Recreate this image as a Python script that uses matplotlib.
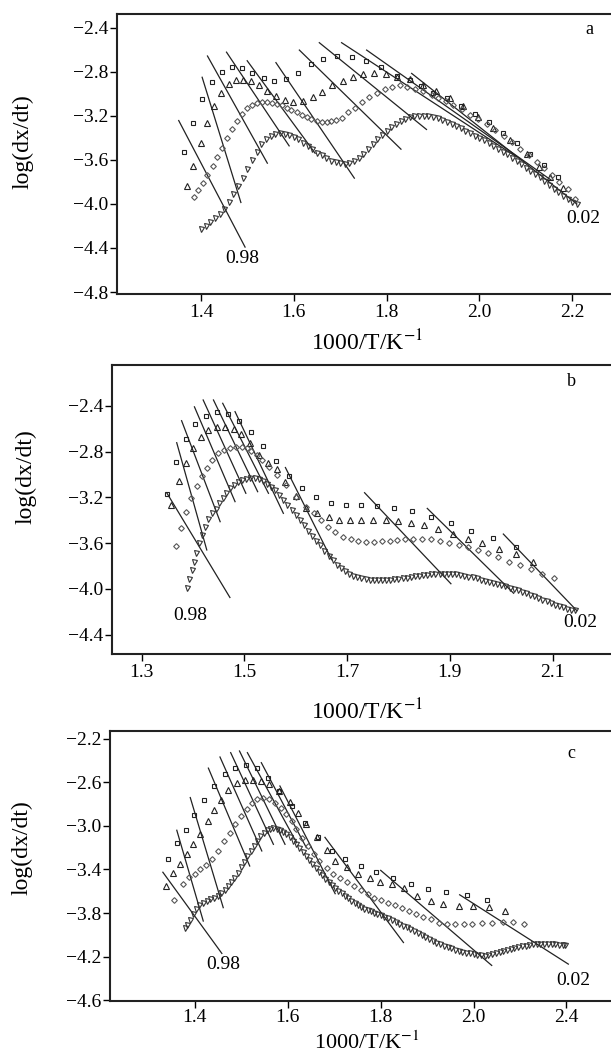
import numpy as np
import matplotlib
matplotlib.use("Agg")
import matplotlib.pyplot as plt

plt.rcParams['font.family'] = ['Liberation Serif', 'DejaVu Serif']
plt.rcParams['mathtext.fontset'] = 'stix'

W, H = 611, 1055

# ---------------- panel a ----------------
a_sq = [(1.364,-3.527),(1.383,-3.269),(1.402,-3.048),(1.423,-2.891),(1.445,-2.80),(1.466,-2.755),
        (1.488,-2.769),(1.511,-2.809),(1.535,-2.855),(1.558,-2.885),(1.583,-2.869),(1.61,-2.809),
        (1.637,-2.733),(1.664,-2.685),(1.694,-2.655),(1.725,-2.664),(1.756,-2.70),(1.789,-2.754),
        (1.823,-2.836),(1.85,-2.875),(1.875,-2.925),(1.90,-2.99),(1.93,-3.04),(1.96,-3.11),
        (1.99,-3.18),(2.02,-3.26),(2.05,-3.355),(2.08,-3.45),(2.11,-3.55),(2.14,-3.65),(2.17,-3.76)]
a_tri = [(1.37,-3.833),(1.383,-3.655),(1.399,-3.451),(1.412,-3.264),(1.427,-3.112),(1.444,-2.996),
         (1.46,-2.912),(1.475,-2.875),(1.491,-2.872),(1.508,-2.888),(1.526,-2.924),(1.542,-2.975),
         (1.562,-3.02),(1.581,-3.057),(1.599,-3.075),(1.619,-3.069),(1.641,-3.033),(1.661,-2.982),
         (1.683,-2.924),(1.705,-2.882),(1.727,-2.845),(1.75,-2.82),(1.773,-2.815),(1.798,-2.82),
         (1.823,-2.844),(1.851,-2.87),(1.879,-2.921),(1.906,-2.973),(1.937,-3.042),(1.965,-3.112),
         (1.998,-3.215),(2.03,-3.309),(2.066,-3.42),(2.102,-3.548),(2.129,-3.663),(2.152,-3.755),
         (2.18,-3.86)]
a_dia = [(1.385,-3.936),(1.394,-3.875),(1.404,-3.809),(1.414,-3.736),(1.425,-3.657),(1.435,-3.573),
         (1.445,-3.49),(1.455,-3.40),(1.466,-3.321),(1.477,-3.245),(1.488,-3.182),(1.499,-3.133),
         (1.51,-3.103),(1.52,-3.085),(1.531,-3.075),(1.542,-3.075),(1.552,-3.082),(1.563,-3.091),
         (1.574,-3.106),(1.585,-3.127),(1.595,-3.148),(1.606,-3.169),(1.617,-3.19),(1.628,-3.212),
         (1.638,-3.23),(1.649,-3.245),(1.66,-3.254),(1.671,-3.257),(1.681,-3.251),(1.692,-3.239),
         (1.703,-3.218),(1.717,-3.169),(1.732,-3.127),(1.746,-3.075),(1.763,-3.027),(1.78,-2.99),
         (1.797,-2.96),(1.811,-2.942),(1.829,-2.921),(1.845,-2.94),(1.861,-2.96),(1.879,-2.975),
         (1.897,-3.012),(1.911,-3.036),(1.928,-3.064),(1.944,-3.103),(1.962,-3.142),(1.98,-3.194),
         (1.998,-3.233),(2.016,-3.278),(2.034,-3.33),(2.052,-3.385),(2.07,-3.436),(2.088,-3.497),
         (2.106,-3.557),(2.124,-3.618),(2.139,-3.678),(2.156,-3.739),(2.172,-3.80),(2.19,-3.869),
         (2.206,-3.951)]
a_inv = [(1.40,-4.23),(1.41,-4.20),(1.42,-4.165),(1.43,-4.13),(1.44,-4.09),(1.45,-4.045),(1.46,-3.98),
         (1.47,-3.91),(1.48,-3.84),(1.49,-3.765),(1.50,-3.68),(1.51,-3.60),(1.52,-3.525),(1.53,-3.46),
         (1.54,-3.41),(1.55,-3.38),(1.56,-3.362),(1.57,-3.358),(1.58,-3.362),(1.59,-3.375),(1.60,-3.39),
         (1.61,-3.415),(1.62,-3.445),(1.63,-3.475),(1.64,-3.505),(1.65,-3.535),(1.66,-3.56),(1.67,-3.585),
         (1.68,-3.607),(1.69,-3.622),(1.70,-3.632),(1.71,-3.635),(1.72,-3.627),(1.73,-3.61),(1.74,-3.585),
         (1.75,-3.55),(1.76,-3.505),(1.77,-3.46),(1.78,-3.415),(1.79,-3.37),(1.80,-3.335),(1.81,-3.30),
         (1.82,-3.272),(1.83,-3.25),(1.84,-3.232),(1.85,-3.215),(1.86,-3.205),(1.87,-3.199),(1.88,-3.198),
         (1.89,-3.202),(1.90,-3.21),(1.91,-3.222),(1.92,-3.238),(1.93,-3.255),(1.94,-3.275),(1.95,-3.295),
         (1.96,-3.315),(1.97,-3.337),(1.98,-3.358),(1.99,-3.38),(2.00,-3.40),(2.01,-3.423),(2.02,-3.446),
         (2.03,-3.47),(2.04,-3.497),(2.05,-3.525),(2.06,-3.55),(2.07,-3.58),(2.08,-3.61),(2.09,-3.64),
         (2.10,-3.67),(2.11,-3.70),(2.12,-3.73),(2.13,-3.76),(2.14,-3.795),(2.15,-3.83),(2.16,-3.865),
         (2.17,-3.895),(2.18,-3.925),(2.19,-3.955),(2.20,-3.98),(2.21,-4.005)]
a_lines = [(1.352,-3.243,1.495,-4.392),(1.4025,-2.850,1.486,-3.987),(1.414,-2.657,1.543,-3.63),
           (1.455,-2.622,1.59,-3.473),(1.4996,-2.70,1.646,-3.54),(1.5615,-2.717,1.7305,-3.766),
           (1.612,-2.603,1.831,-3.503),(1.655,-2.536,1.886,-3.324),(1.703,-2.536,2.08,-3.573),
           (1.757,-2.603,2.155,-3.785),(1.854,-2.815,2.21,-4.0)]

# ---------------- panel b ----------------
b_sq = [(1.349,-3.171),(1.367,-2.895),(1.387,-2.694),(1.405,-2.563),(1.425,-2.487),(1.446,-2.458),
        (1.468,-2.473),(1.49,-2.534),(1.514,-2.63),(1.537,-2.749),(1.561,-2.883),(1.586,-3.01),
        (1.612,-3.119),(1.639,-3.20),(1.668,-3.247),(1.697,-3.267),(1.727,-3.267),(1.758,-3.273),
        (1.792,-3.291),(1.827,-3.323),(1.863,-3.37),(1.902,-3.428),(1.942,-3.497),(1.984,-3.558),
        (2.029,-3.631)]
b_tri = [(1.357,-3.267),(1.372,-3.058),(1.386,-2.898),(1.401,-2.768),(1.416,-2.676),(1.43,-2.61),
         (1.446,-2.587),(1.462,-2.587),(1.479,-2.605),(1.494,-2.648),(1.511,-2.73),(1.528,-2.83),
         (1.546,-2.90),(1.563,-2.95),(1.58,-3.064),(1.60,-3.189),(1.62,-3.29),(1.641,-3.34),
         (1.664,-3.369),(1.684,-3.398),(1.705,-3.398),(1.728,-3.398),(1.751,-3.398),(1.775,-3.398),
         (1.799,-3.407),(1.824,-3.422),(1.85,-3.445),(1.876,-3.48),(1.907,-3.52),(1.935,-3.562),
         (1.963,-3.602),(1.996,-3.652),(2.028,-3.698),(2.061,-3.768)]
b_dia = [(1.3675,-3.622),(1.377,-3.465),(1.387,-3.331),(1.396,-3.209),(1.408,-3.101),(1.418,-3.014),
         (1.427,-2.941),(1.438,-2.874),(1.449,-2.816),(1.461,-2.787),(1.472,-2.772),(1.4835,-2.764),
         (1.495,-2.764),(1.505,-2.772),(1.514,-2.796),(1.524,-2.83),(1.534,-2.874),(1.548,-2.932),
         (1.563,-3.005),(1.582,-3.092),(1.601,-3.194),(1.62,-3.282),(1.635,-3.34),(1.649,-3.398),
         (1.663,-3.456),(1.677,-3.50),(1.692,-3.544),(1.707,-3.567),(1.722,-3.582),(1.737,-3.587),
         (1.753,-3.587),(1.768,-3.582),(1.783,-3.579),(1.798,-3.573),(1.813,-3.567),(1.829,-3.562),
         (1.846,-3.562),(1.863,-3.567),(1.881,-3.578),(1.899,-3.595),(1.917,-3.617),(1.936,-3.633),
         (1.955,-3.664),(1.975,-3.69),(1.994,-3.72),(2.015,-3.762),(2.036,-3.79),(2.057,-3.83),
         (2.08,-3.867),(2.102,-3.908)]
b_inv = [(1.388,-3.995),(1.393,-3.916),(1.398,-3.835),(1.402,-3.762),(1.407,-3.684),(1.412,-3.602),
         (1.417,-3.529),(1.424,-3.457),(1.43,-3.39),(1.437,-3.34),(1.444,-3.30),(1.451,-3.25),
         (1.458,-3.205),(1.465,-3.16),(1.472,-3.12),(1.48,-3.09),(1.488,-3.065),(1.496,-3.047),
         (1.504,-3.037),(1.512,-3.033),(1.52,-3.035),(1.528,-3.043),(1.536,-3.058),(1.544,-3.08),
         (1.552,-3.107),(1.56,-3.14),(1.568,-3.18),(1.576,-3.222),(1.584,-3.265),(1.592,-3.31),
         (1.60,-3.355),(1.608,-3.40),(1.616,-3.445),(1.624,-3.49),(1.632,-3.535),(1.64,-3.58),
         (1.648,-3.62),(1.656,-3.665),(1.664,-3.71),(1.672,-3.75),(1.68,-3.787),(1.688,-3.82),
         (1.696,-3.847),(1.704,-3.868),(1.712,-3.885),(1.72,-3.898),(1.728,-3.908),(1.736,-3.915),
         (1.744,-3.92),(1.752,-3.923),(1.76,-3.924),(1.768,-3.924),(1.776,-3.923),(1.784,-3.92),
         (1.792,-3.917),(1.80,-3.913),(1.808,-3.908),(1.816,-3.903),(1.824,-3.897),(1.832,-3.891),
         (1.84,-3.886),(1.848,-3.881),(1.856,-3.877),(1.864,-3.874),(1.872,-3.871),(1.88,-3.869),
         (1.888,-3.868),(1.896,-3.869),(1.904,-3.871),(1.912,-3.874),(1.92,-3.879),(1.928,-3.885),
         (1.936,-3.892),(1.944,-3.90),(1.952,-3.909),(1.96,-3.919),(1.968,-3.929),(1.976,-3.939),
         (1.984,-3.949),(1.992,-3.959),(2.0,-3.969),(2.008,-3.979),(2.016,-3.99),(2.024,-4.001),
         (2.032,-4.012),(2.04,-4.024),(2.048,-4.036),(2.056,-4.049),(2.064,-4.063),(2.072,-4.078),
         (2.08,-4.093),(2.088,-4.108),(2.096,-4.123),(2.104,-4.137),(2.112,-4.15),(2.12,-4.162),
         (2.128,-4.172),(2.136,-4.18),(2.144,-4.187)]
b_lines = [(1.349,-3.16,1.472,-4.075),(1.3685,-2.723,1.427,-3.66),(1.378,-2.531,1.453,-3.413),
           (1.403,-2.41,1.482,-3.238),(1.42,-2.35,1.503,-3.165),(1.44,-2.35,1.526,-3.151),
           (1.458,-2.379,1.547,-3.165),(1.482,-2.452,1.576,-3.34),(1.58,-2.94,1.67,-3.745),
           (1.734,-3.16,1.902,-3.955),(1.856,-3.297,2.024,-4.038),(2.004,-3.521,2.147,-4.19)]

# ---------------- panel c ----------------
c_sq = [(1.343,-3.307),(1.362,-3.16),(1.381,-3.036),(1.399,-2.902),(1.419,-2.762),(1.441,-2.634),
        (1.465,-2.527),(1.486,-2.466),(1.51,-2.441),(1.533,-2.473),(1.558,-2.561),(1.582,-2.68),
        (1.608,-2.817),(1.637,-2.971),(1.664,-3.105),(1.695,-3.23),(1.723,-3.30),(1.757,-3.368),
        (1.79,-3.423),(1.826,-3.481),(1.866,-3.53),(1.902,-3.575),(1.941,-3.604),(1.985,-3.638),
        (2.029,-3.683)]
c_tri = [(1.337,-3.551),(1.352,-3.432),(1.368,-3.347),(1.382,-3.255),(1.395,-3.17),(1.411,-3.078),
         (1.4275,-2.955),(1.441,-2.858),(1.4555,-2.766),(1.472,-2.674),(1.49,-2.604),(1.508,-2.579),
         (1.526,-2.579),(1.5425,-2.588),(1.56,-2.62),(1.58,-2.68),(1.6055,-2.778),(1.622,-2.88),
         (1.639,-2.986),(1.662,-3.102),(1.684,-3.224),(1.702,-3.322),(1.727,-3.377),(1.751,-3.445),
         (1.776,-3.475),(1.798,-3.512),(1.824,-3.536),(1.85,-3.567),(1.879,-3.642),(1.908,-3.688),
         (1.935,-3.718),(1.969,-3.737),(1.998,-3.737),(2.033,-3.746),(2.068,-3.785)]
c_dia = [(1.354,-3.683),(1.375,-3.53),(1.387,-3.469),(1.40,-3.439),(1.411,-3.399),(1.423,-3.359),
         (1.436,-3.307),(1.45,-3.231),(1.463,-3.139),(1.4755,-3.062),(1.487,-2.986),(1.499,-2.91),
         (1.5116,-2.848),(1.524,-2.787),(1.534,-2.757),(1.547,-2.741),(1.559,-2.757),(1.572,-2.787),
         (1.5846,-2.839),(1.5955,-2.894),(1.608,-2.955),(1.618,-3.032),(1.631,-3.108),(1.6433,-3.185),
         (1.656,-3.261),(1.668,-3.322),(1.6836,-3.383),(1.698,-3.445),(1.712,-3.475),(1.727,-3.512),
         (1.742,-3.552),(1.757,-3.588),(1.772,-3.622),(1.786,-3.659),(1.801,-3.683),(1.815,-3.705),
         (1.83,-3.729),(1.846,-3.75),(1.861,-3.781),(1.876,-3.812),(1.892,-3.836),(1.909,-3.857),
         (1.926,-3.888),(1.9436,-3.903),(1.96,-3.903),(1.979,-3.903),(1.997,-3.903),(2.018,-3.894),
         (2.039,-3.888),(2.063,-3.882),(2.085,-3.882),(2.109,-3.903)]
c_inv = [(1.378,-3.935),(1.384,-3.905),(1.39,-3.865),(1.396,-3.81),(1.402,-3.765),(1.409,-3.73),
         (1.417,-3.705),(1.425,-3.69),(1.433,-3.675),(1.441,-3.66),(1.449,-3.64),(1.457,-3.615),
         (1.464,-3.585),(1.471,-3.553),(1.478,-3.515),(1.485,-3.475),(1.492,-3.43),(1.499,-3.38),
         (1.506,-3.33),(1.513,-3.28),(1.52,-3.23),(1.527,-3.18),(1.534,-3.135),(1.541,-3.095),
         (1.548,-3.063),(1.555,-3.04),(1.562,-3.028),(1.569,-3.023),(1.576,-3.026),(1.583,-3.037),
         (1.59,-3.055),(1.597,-3.078),(1.604,-3.105),(1.611,-3.135),(1.618,-3.168),(1.625,-3.203),
         (1.632,-3.24),(1.639,-3.277),(1.646,-3.313),(1.653,-3.35),(1.66,-3.386),(1.667,-3.42),
         (1.674,-3.452),(1.681,-3.483),(1.688,-3.512),(1.695,-3.54),(1.702,-3.567),(1.709,-3.593),
         (1.716,-3.618),(1.723,-3.642),(1.73,-3.664),(1.737,-3.685),(1.744,-3.705),(1.751,-3.724),
         (1.758,-3.742),(1.765,-3.758),(1.772,-3.772),(1.779,-3.785),(1.786,-3.797),(1.793,-3.808),
         (1.80,-3.82),(1.808,-3.833),(1.816,-3.848),(1.824,-3.864),(1.832,-3.88),(1.84,-3.897),
         (1.848,-3.914),(1.856,-3.931),(1.864,-3.949),(1.872,-3.967),(1.88,-3.985),(1.888,-4.002),
         (1.896,-4.02),(1.904,-4.037),(1.912,-4.054),(1.92,-4.07),(1.928,-4.085),(1.936,-4.099),
         (1.944,-4.112),(1.952,-4.124),(1.96,-4.135),(1.968,-4.145),(1.976,-4.154),(1.984,-4.162),
         (1.992,-4.169),(2.0,-4.175),(2.008,-4.181),(2.016,-4.186),(2.024,-4.189),(2.032,-4.187),
         (2.04,-4.178),(2.048,-4.168),(2.056,-4.157),(2.064,-4.147),(2.072,-4.138),(2.08,-4.13),
         (2.088,-4.122),(2.096,-4.114),(2.104,-4.106),(2.112,-4.099),(2.12,-4.092),(2.128,-4.087),
         (2.136,-4.083),(2.144,-4.081),(2.152,-4.081),(2.16,-4.082),(2.168,-4.084),(2.176,-4.086),
         (2.184,-4.089),(2.192,-4.091),(2.197,-4.093)]
c_lines = [(1.331,-3.425,1.458,-4.17),(1.361,-3.04,1.418,-3.873),(1.39,-2.74,1.461,-3.75),
           (1.429,-2.47,1.518,-3.368),(1.454,-2.368,1.544,-3.23),(1.477,-2.328,1.569,-3.169),
           (1.496,-2.313,1.594,-3.169),(1.513,-2.328,1.619,-3.154),(1.543,-2.42,1.64,-3.2),
           (1.583,-2.634,1.702,-3.622),(1.68,-3.105,1.849,-4.07),(1.80,-3.408,2.039,-4.28),
           (1.97,-3.632,2.204,-4.268)]
c_xtick_labels = ['1.4', '1.6', '1.8', '2.0', '2.4']


def px(x0, y0, x1, y1):
    # pixel box -> figure fraction rect
    return [x0 / W, 1 - y1 / H, (x1 - x0) / W, (y1 - y0) / H]


fig = plt.figure(figsize=(W / 100, H / 100), dpi=100)


def panel(rect, xlim, ylim, xticks, xlabels, yticks, sq, tri, dia, inv, lines,
          letter, letter_xy, pos98, pos02, xpad=2):
    ax = fig.add_axes(rect)
    for x0, y0, x1, y1 in lines:
        ax.plot([x0, x1], [y0, y1], color='#222222', lw=0.9, zorder=1)
    mk = dict(ls='none', mfc='none', mew=0.8, zorder=2)
    ax.plot(*np.array(sq).T, marker='s', ms=3.4, mec='#222222', **mk)
    ax.plot(*np.array(tri).T, marker='^', ms=3.8, mec='#222222', **mk)
    ax.plot(*np.array(dia).T, marker='D', ms=2.9, mec='#555555', **mk)
    ax.plot(*np.array(inv).T, marker='v', ms=3.6, mec='#333333', **mk)
    ax.set_xlim(*xlim)
    ax.set_ylim(*ylim)
    ax.set_xticks(xticks)
    ax.set_xticklabels(xlabels)
    ax.set_yticks(yticks)
    ax.set_yticklabels(['\u2212%.1f' % abs(v) for v in yticks])
    ax.tick_params(direction='out', length=5, width=1.0, labelsize=14)
    ax.tick_params(axis='y', pad=1)
    ax.tick_params(axis='x', pad=xpad)
    ax.spines['right'].set_visible(False)
    for s in ('left', 'top', 'bottom'):
        ax.spines[s].set_linewidth(1.5)
        ax.spines[s].set_color('#222222')
    ax.text(*letter_xy, letter, fontsize=13, ha='center', va='center')
    ax.text(*pos98, '0.98', fontsize=14, ha='center', va='center')
    ax.text(*pos02, '0.02', fontsize=14, ha='center', va='center')
    return ax


panel(px(117, 14, 612, 294), (1.219, 2.2858), (-4.818, -2.2755),
      [1.4, 1.6, 1.8, 2.0, 2.2], ['1.4', '1.6', '1.8', '2.0', '2.2'],
      [-2.4, -2.8, -3.2, -3.6, -4.0, -4.4, -4.8],
      a_sq, a_tri, a_dia, a_inv, a_lines, 'a', (2.236, -2.415), (1.49, -4.495), (2.224, -4.133))

panel(px(112, 365, 612, 654), (1.2426, 2.2154), (-4.5686, -2.0445),
      [1.3, 1.5, 1.7, 1.9, 2.1], ['1.3', '1.5', '1.7', '1.9', '2.1'],
      [-2.4, -2.8, -3.2, -3.6, -4.0, -4.4],
      b_sq, b_tri, b_dia, b_inv, b_lines, 'b', (2.137, -2.19), (1.394, -4.228), (2.153, -4.29))

panel(px(110, 731, 612, 1001), (1.2172, 2.298), (-4.6064, -2.1294),
      [1.4, 1.6, 1.8, 2.0, 2.2], c_xtick_labels,
      [-2.2, -2.6, -3.0, -3.4, -3.8, -4.2, -4.6],
      c_sq, c_tri, c_dia, c_inv, c_lines, 'c', (2.21, -2.338), (1.461, -4.271), (2.215, -4.417),
      xpad=1)

# axis titles placed in pixel positions
for yc in (343, 712):
    fig.text(367 / W, 1 - yc / H, r'1000/T/K$^{-1}$', fontsize=17, ha='center', va='center')
fig.text(367 / W, 1 - 1054 / H, r'1000/T/K$^{-1}$', fontsize=16, ha='center', va='bottom')
for xc, yc in ((23, 142), (26, 477), (22, 848)):
    fig.text(xc / W, 1 - yc / H, 'log(dx/dt)', fontsize=17, rotation=90, ha='center', va='center')

fig.savefig('out.png', dpi=100)
